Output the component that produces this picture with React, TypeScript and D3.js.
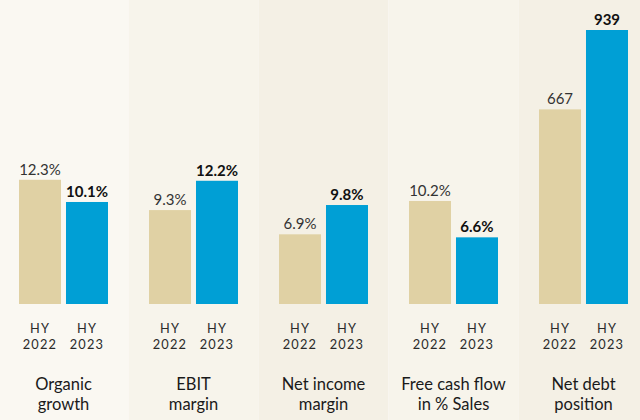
import * as d3 from "d3";
import { FC, useEffect, useRef } from "react";

const CATEGORIES: string[][] = [
  ["Organic", "growth"],
  ["EBIT", "margin"],
  ["Net income", "margin"],
  ["Free cash flow", "in % Sales"],
  ["Net debt", "position"],
];
const PERIODS: string[] = ["2022", "2023"];
const VALUES_2022: number[] = [12.3, 9.3, 6.9, 10.2, 667];
const VALUES_2023: number[] = [10.1, 12.2, 9.8, 6.6, 939];
const LABELS_2022: string[] = ["12.3%", "9.3%", "6.9%", "10.2%", "667"];
const LABELS_2023: string[] = ["10.1%", "12.2%", "9.8%", "6.6%", "939"];
const IS_PERCENT: boolean[] = [true, true, true, true, false];

const PANEL_BG = ["#faf8f2", "#f7f4eb", "#f4f0e5", "#f7f4eb", "#f4f0e5"];
const COLORS = ["#e0d1a4", "#009fd5"];
const FONT = "Lato, 'Open Sans', sans-serif";

const App: FC = () => {
  const ref = useRef<HTMLDivElement | null>(null);

  useEffect(() => {
    document.body.style.margin = "0";
    if (!ref.current) return;
    const width = 640;
    const height = 420;
    const baseY = 304;

    d3.select(ref.current).selectAll("*").remove();
    const svg = d3
      .select(ref.current)
      .append("svg")
      .attr("width", width)
      .attr("height", height)
      .style("display", "block");

    const names = CATEGORIES.map((c) => c.join(" "));
    const x0 = d3.scaleBand<string>().domain(names).range([-1.5, 648.5]);
    const x1 = d3
      .scaleBand<string>()
      .domain(PERIODS)
      .range([x0.bandwidth() / 2 - 44.5, x0.bandwidth() / 2 + 44.5])
      .paddingInner(0.106);

    // percentages share one scale, net debt (EUR m) gets its own
    const yPct = d3.scaleLinear().domain([0, 10]).range([baseY, baseY - 101]);
    const yDebt = d3.scaleLinear().domain([0, 939]).range([baseY, 30]);

    const panels = svg
      .selectAll("g.panel")
      .data(names)
      .enter()
      .append("g")
      .attr("class", "panel")
      .attr("transform", (d) => `translate(${x0(d)},0)`);

    panels
      .append("rect")
      .attr("x", 0)
      .attr("y", 0)
      .attr("width", x0.step())
      .attr("height", height)
      .attr("fill", (_, i) => PANEL_BG[i]);

    panels.each(function (_, i) {
      const g = d3.select(this);
      const y = IS_PERCENT[i] ? yPct : yDebt;
      const vals = [VALUES_2022[i], VALUES_2023[i]];
      const labels = [LABELS_2022[i], LABELS_2023[i]];

      PERIODS.forEach((p, j) => {
        const bx = x1(p) as number;
        const cx = bx + x1.bandwidth() / 2;
        g.append("rect")
          .attr("x", bx)
          .attr("y", y(vals[j]))
          .attr("width", x1.bandwidth())
          .attr("height", baseY - y(vals[j]))
          .attr("fill", COLORS[j]);

        g.append("text")
          .attr("x", cx)
          .attr("y", y(vals[j]) - 5)
          .attr("text-anchor", "middle")
          .attr("font-family", FONT)
          .attr("font-size", 15)
          .attr("font-weight", j === 1 ? 700 : 400)
          .attr("fill", j === 1 ? "#111" : "#333")
          .text(labels[j]);

        ["HY", p].forEach((line, k) => {
          g.append("text")
            .attr("x", cx)
            .attr("y", 333 + k * 15.5)
            .attr("text-anchor", "middle")
            .attr("font-family", FONT)
            .attr("font-size", 12.8)
            .attr("letter-spacing", 1.2)
            .attr("fill", "#2a2a2a")
            .text(line);
        });
      });

      CATEGORIES[i].forEach((line, k) => {
        g.append("text")
          .attr("x", x0.bandwidth() / 2)
          .attr("y", 390 + k * 20)
          .attr("text-anchor", "middle")
          .attr("font-family", FONT)
          .attr("font-size", 16.5)
          .attr("fill", "#1a1a1a")
          .text(line);
      });
    });
  }, []);

  return <div ref={ref} />;
};

export default App;
